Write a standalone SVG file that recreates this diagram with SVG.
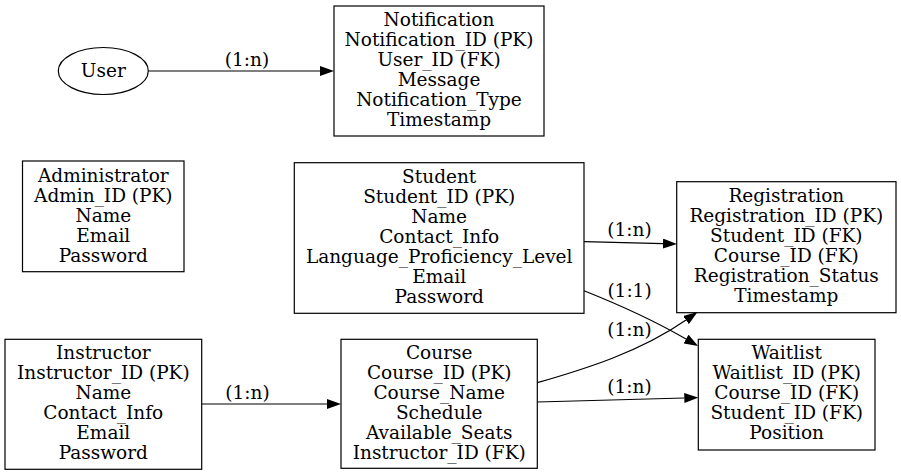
<svg xmlns="http://www.w3.org/2000/svg" width="901" height="476" viewBox="0 0 901 476">
<style>
  .box { fill: #ffffff; stroke: #000000; stroke-width: 1.2; }
  .node text, .lbl { font-family: "DejaVu Serif", "Liberation Serif", serif; font-size: 18.5px; fill: #000000; text-anchor: middle; }
  .edge { fill: none; stroke: #000000; stroke-width: 1.2; }
</style>
<defs>
  <marker id="arr" markerUnits="userSpaceOnUse" viewBox="0 0 14 10" refX="0" refY="5" markerWidth="14" markerHeight="10" orient="auto">
    <path d="M0,0 L14,5 L0,10 z" fill="#000000"/>
  </marker>
</defs>
<rect width="901" height="476" fill="#ffffff"/>

<g id="User" class="node">
  <ellipse class="box" cx="103.3" cy="71" rx="45" ry="23.5"/>
  <text x="103.3" y="77">User</text>
</g>

<g id="Notification" class="node">
  <rect class="box" x="334" y="6" width="210" height="130"/>
  <text x="439" y="26">Notification</text>
  <text x="439" y="46">Notification_ID (PK)</text>
  <text x="439" y="66">User_ID (FK)</text>
  <text x="439" y="86">Message</text>
  <text x="439" y="106">Notification_Type</text>
  <text x="439" y="126">Timestamp</text>
</g>

<g id="Administrator" class="node">
  <rect class="box" x="22.5" y="161" width="161.5" height="110.7"/>
  <text x="103.3" y="181.5">Administrator</text>
  <text x="103.3" y="201.5">Admin_ID (PK)</text>
  <text x="103.3" y="221.5">Name</text>
  <text x="103.3" y="241.5">Email</text>
  <text x="103.3" y="261.5">Password</text>
</g>

<g id="Student" class="node">
  <rect class="box" x="294.3" y="162.7" width="289.7" height="150.6"/>
  <text x="439.2" y="183.3">Student</text>
  <text x="439.2" y="203.3">Student_ID (PK)</text>
  <text x="439.2" y="223.2">Name</text>
  <text x="439.2" y="243.1">Contact_Info</text>
  <text x="439.2" y="263">Language_Proficiency_Level</text>
  <text x="439.2" y="282.9">Email</text>
  <text x="439.2" y="302.8">Password</text>
</g>

<g id="Registration" class="node">
  <rect class="box" x="676.7" y="181.7" width="219.3" height="131"/>
  <text x="786.3" y="201.7">Registration</text>
  <text x="786.3" y="221.7">Registration_ID (PK)</text>
  <text x="786.3" y="241.7">Student_ID (FK)</text>
  <text x="786.3" y="261.7">Course_ID (FK)</text>
  <text x="786.3" y="281.7">Registration_Status</text>
  <text x="786.3" y="301.7">Timestamp</text>
</g>

<g id="Waitlist" class="node">
  <rect class="box" x="698.3" y="339.3" width="176.7" height="110.7"/>
  <text x="786.7" y="359.3">Waitlist</text>
  <text x="786.7" y="379.3">Waitlist_ID (PK)</text>
  <text x="786.7" y="399.3">Course_ID (FK)</text>
  <text x="786.7" y="419.3">Student_ID (FK)</text>
  <text x="786.7" y="439.3">Position</text>
</g>

<g id="Instructor" class="node">
  <rect class="box" x="5" y="339.3" width="196.7" height="130"/>
  <text x="103.3" y="359.3">Instructor</text>
  <text x="103.3" y="379.3">Instructor_ID (PK)</text>
  <text x="103.3" y="399.3">Name</text>
  <text x="103.3" y="419.3">Contact_Info</text>
  <text x="103.3" y="439.3">Email</text>
  <text x="103.3" y="459.3">Password</text>
</g>

<g id="Course" class="node">
  <rect class="box" x="341" y="339.3" width="196.3" height="129"/>
  <text x="439.2" y="359">Course</text>
  <text x="439.2" y="379">Course_ID (PK)</text>
  <text x="439.2" y="399">Course_Name</text>
  <text x="439.2" y="419">Schedule</text>
  <text x="439.2" y="439">Available_Seats</text>
  <text x="439.2" y="459">Instructor_ID (FK)</text>
</g>

<g id="connectors">
  <path class="edge" d="M148.3,71 L320,71" marker-end="url(#arr)"/>
  <text class="lbl" x="247" y="65.5">(1:n)</text>

  <path class="edge" d="M201.7,404 L327,404" marker-end="url(#arr)"/>
  <text class="lbl" x="247.5" y="398.5">(1:n)</text>

  <path class="edge" d="M584,241.7 L663,243.6" marker-end="url(#arr)"/>
  <text class="lbl" x="629.5" y="236">(1:n)</text>

  <path class="edge" d="M584,290.7 C620,305 655,321 686,339" marker-end="url(#arr)"/>
  <text class="lbl" x="629.5" y="297">(1:1)</text>

  <path class="edge" d="M537.3,382.7 C585,369 640,352 686,320" marker-end="url(#arr)"/>
  <text class="lbl" x="629.5" y="336">(1:n)</text>

  <path class="edge" d="M537.3,402 L684.3,398" marker-end="url(#arr)"/>
  <text class="lbl" x="629.5" y="393">(1:n)</text>
</g>
</svg>
